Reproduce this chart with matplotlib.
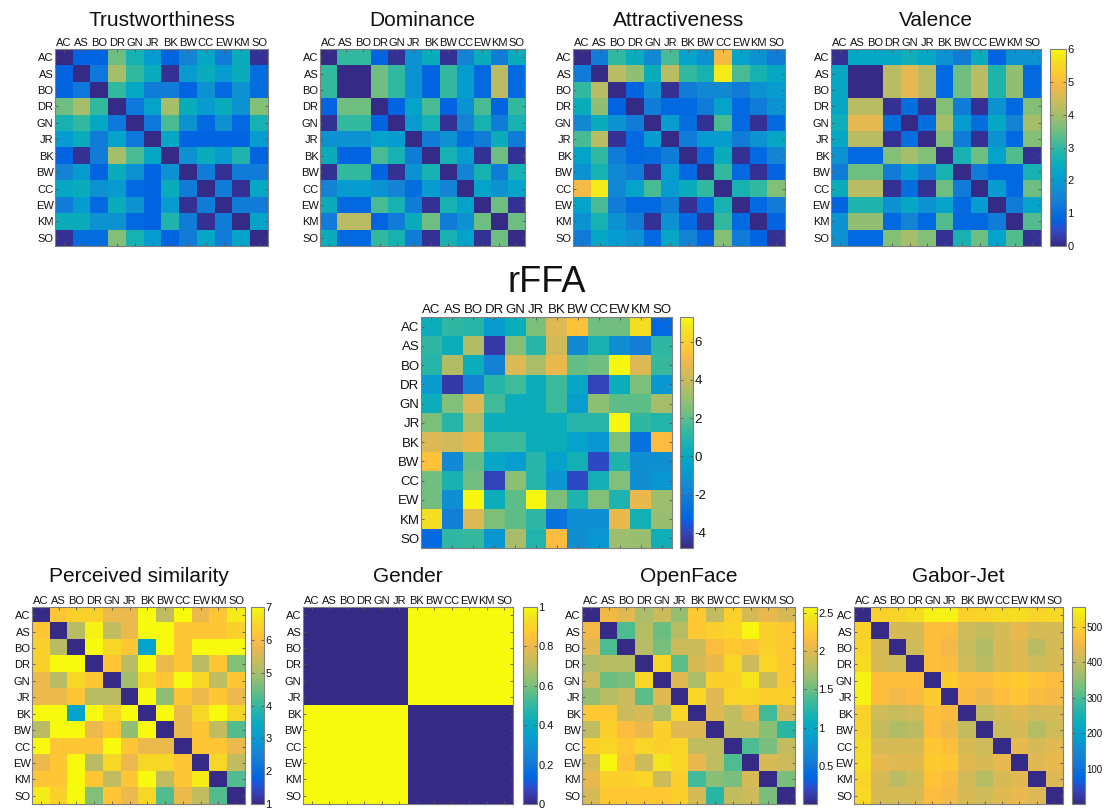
import numpy as np
import matplotlib
matplotlib.use("Agg")
import matplotlib.pyplot as plt
from matplotlib.colors import LinearSegmentedColormap

plt.rcParams['font.family'] = ['Liberation Sans', 'DejaVu Sans']
plt.rcParams['axes.unicode_minus'] = False

faces = ['AC', 'AS', 'BO', 'DR', 'GN', 'JR', 'BK', 'BW', 'CC', 'EW', 'KM', 'SO']

trustworthiness = [
    [0.0, 0.8, 0.8, 3.5, 2.7, 2.0, 0.8, 1.5, 2.3, 1.3, 2.5, 0.1],
    [0.8, 0.0, 1.2, 4.0, 3.0, 2.5, 0.1, 2.0, 2.5, 2.0, 2.5, 1.0],
    [0.8, 1.2, 0.0, 3.0, 2.3, 1.3, 1.3, 0.8, 1.8, 0.9, 1.8, 1.0],
    [3.5, 4.0, 3.0, 0.0, 1.2, 2.2, 4.0, 2.5, 2.0, 2.5, 1.8, 3.7],
    [2.7, 3.0, 2.3, 1.2, 0.0, 1.2, 3.2, 1.8, 0.9, 1.8, 0.9, 2.7],
    [2.0, 2.5, 1.3, 2.2, 1.2, 0.0, 2.3, 0.8, 0.8, 0.8, 0.8, 2.0],
    [0.8, 0.1, 1.3, 4.0, 3.2, 2.3, 0.0, 1.8, 2.5, 2.0, 2.8, 0.8],
    [1.5, 2.0, 0.8, 2.5, 1.8, 0.8, 1.8, 0.0, 1.3, 0.1, 1.3, 1.3],
    [2.3, 2.5, 1.8, 2.0, 0.9, 0.8, 2.5, 1.3, 0.0, 1.3, 0.1, 2.3],
    [1.3, 2.0, 0.9, 2.5, 1.8, 0.8, 2.0, 0.1, 1.3, 0.0, 1.3, 1.3],
    [2.5, 2.5, 1.8, 1.8, 0.9, 0.8, 2.8, 1.3, 0.1, 1.3, 0.0, 2.2],
    [0.1, 1.0, 1.0, 3.7, 2.7, 2.0, 0.8, 1.3, 2.3, 1.3, 2.2, 0.0],
]

dominance = [
    [0.0, 3.0, 3.0, 0.8, 0.1, 1.8, 2.5, 0.1, 1.5, 2.5, 1.3, 2.5],
    [3.0, 0.0, 0.0, 3.5, 3.0, 1.8, 0.8, 3.0, 2.0, 0.9, 4.2, 0.9],
    [3.0, 0.0, 0.0, 3.5, 3.0, 1.8, 0.8, 3.0, 2.0, 0.9, 4.2, 0.9],
    [0.8, 3.5, 3.5, 0.0, 0.8, 2.2, 3.2, 0.8, 1.8, 3.2, 0.8, 3.0],
    [0.1, 3.0, 3.0, 0.8, 0.0, 2.0, 2.7, 0.1, 1.5, 2.7, 1.3, 2.7],
    [1.8, 1.8, 1.8, 2.2, 2.0, 0.0, 1.3, 1.8, 1.0, 1.3, 2.5, 1.3],
    [2.5, 0.8, 0.8, 3.2, 2.7, 1.3, 0.0, 2.7, 2.0, 0.1, 3.5, 0.1],
    [0.1, 3.0, 3.0, 0.8, 0.1, 1.8, 2.7, 0.0, 1.5, 2.7, 1.3, 2.7],
    [1.5, 2.0, 2.0, 1.8, 1.5, 1.0, 2.0, 1.5, 0.0, 2.2, 1.8, 2.2],
    [2.5, 0.9, 0.9, 3.2, 2.7, 1.3, 0.1, 2.7, 2.2, 0.0, 3.5, 0.1],
    [1.3, 4.2, 4.2, 0.8, 1.3, 2.5, 3.5, 1.3, 1.8, 3.5, 0.0, 3.5],
    [2.5, 0.9, 0.9, 3.0, 2.7, 1.3, 0.1, 2.7, 2.2, 0.1, 3.5, 0.0],
]

attractiveness = [
    [0.0, 1.3, 3.0, 2.5, 1.6, 3.2, 2.2, 1.8, 4.9, 2.2, 1.8, 1.3],
    [1.3, 0.0, 4.2, 3.8, 2.5, 4.2, 3.0, 2.7, 5.8, 3.2, 2.7, 2.3],
    [3.0, 4.2, 0.0, 0.8, 1.8, 0.1, 1.3, 1.6, 1.6, 1.3, 1.8, 2.0],
    [2.5, 3.8, 0.8, 0.0, 1.3, 0.9, 0.9, 1.3, 2.2, 0.9, 1.3, 1.8],
    [1.6, 2.5, 1.8, 1.3, 0.0, 2.0, 1.0, 0.1, 3.2, 0.9, 0.1, 0.9],
    [3.2, 4.2, 0.1, 0.9, 2.0, 0.0, 1.3, 2.0, 2.0, 1.3, 1.8, 2.3],
    [2.2, 3.0, 1.3, 0.9, 1.0, 1.3, 0.0, 0.9, 2.5, 0.1, 0.9, 1.5],
    [1.8, 2.7, 1.6, 1.3, 0.1, 2.0, 0.9, 0.0, 3.0, 0.9, 0.1, 0.8],
    [4.9, 5.8, 1.6, 2.2, 3.2, 2.0, 2.5, 3.0, 0.0, 2.7, 3.0, 3.7],
    [2.2, 3.2, 1.3, 0.9, 0.9, 1.3, 0.1, 0.9, 2.7, 0.0, 0.9, 1.3],
    [1.8, 2.7, 1.8, 1.3, 0.1, 1.8, 0.9, 0.1, 3.0, 0.9, 0.0, 0.8],
    [1.3, 2.3, 2.0, 1.8, 0.9, 2.3, 1.5, 0.8, 3.7, 1.3, 0.8, 0.1],
]

valence = [
    [0.1, 2.3, 2.3, 2.3, 2.6, 2.3, 1.8, 1.3, 2.5, 0.8, 1.8, 1.8],
    [2.3, 0.0, 0.0, 4.2, 4.7, 4.2, 0.9, 3.5, 4.2, 2.8, 3.8, 0.9],
    [2.3, 0.0, 0.0, 4.2, 4.7, 4.2, 0.9, 3.5, 4.2, 2.8, 3.8, 0.9],
    [2.3, 4.2, 4.2, 0.1, 1.0, 0.1, 3.7, 1.3, 0.1, 1.8, 0.9, 3.7],
    [2.6, 4.7, 4.7, 1.0, 0.0, 1.0, 4.0, 2.0, 1.0, 2.3, 1.5, 4.0],
    [2.3, 4.2, 4.2, 0.1, 1.0, 0.0, 3.7, 1.3, 0.1, 1.8, 0.9, 3.7],
    [1.8, 0.9, 0.9, 3.7, 4.0, 3.7, 0.0, 2.7, 3.5, 2.2, 3.3, 0.1],
    [1.3, 3.5, 3.5, 1.3, 2.0, 1.3, 2.7, 0.0, 1.3, 0.9, 0.9, 2.7],
    [2.5, 4.2, 4.2, 0.1, 1.0, 0.1, 3.5, 1.3, 0.0, 2.0, 0.9, 3.5],
    [0.8, 2.8, 2.8, 1.8, 2.3, 1.8, 2.2, 0.9, 2.0, 0.0, 1.3, 2.2],
    [1.8, 3.8, 3.8, 0.9, 1.5, 0.9, 3.3, 0.9, 0.9, 1.3, 0.0, 3.3],
    [1.8, 0.9, 0.9, 3.7, 4.0, 3.7, 0.1, 2.7, 3.5, 2.2, 3.3, 0.1],
]

rffa = [
    [0.3, 1.2, 1.0, -0.8, 0.3, 2.5, 4.5, 5.5, 2.3, 2.3, 6.5, -3.0],
    [1.2, 0.3, 3.5, -4.3, 2.6, 1.0, 4.2, -1.5, 0.7, -1.3, -2.0, 1.2],
    [1.0, 3.5, 0.3, -1.8, 4.5, 3.4, 4.8, 2.1, 2.3, 7.2, 4.5, 1.3],
    [-0.8, -4.3, -1.8, 1.0, 1.5, 0.3, 1.4, -0.2, -4.0, 0.3, 2.5, -1.0],
    [0.3, 2.6, 4.5, 1.5, 0.3, 0.3, 1.4, -0.6, 2.8, 2.0, 2.0, 3.3],
    [2.5, 1.0, 3.4, 0.3, 0.3, 0.3, 0.3, 1.0, 1.0, 7.2, 1.2, 0.9],
    [4.5, 4.2, 4.8, 1.4, 1.4, 0.3, 0.3, -0.4, -1.0, 2.5, -2.6, 5.3],
    [5.5, -1.5, 2.1, -0.2, -0.6, 1.0, -0.4, 0.5, -3.9, 0.8, -1.3, -1.3],
    [2.3, 0.7, 2.3, -4.0, 2.8, 1.0, -1.0, -3.9, 0.5, 2.6, -1.3, -1.0],
    [2.3, -1.3, 7.2, 0.3, 2.0, 7.2, 2.5, 0.8, 2.6, 0.8, 4.8, 3.1],
    [6.5, -2.0, 4.5, 2.5, 2.0, 1.2, -2.6, -1.3, -1.3, 4.8, 0.5, 3.0],
    [-3.0, 1.2, 1.3, -1.0, 3.3, 0.9, 5.3, -1.3, -1.0, 3.1, 3.0, 0.4],
]

perceived_similarity = [
    [1.0, 6.2, 6.4, 6.4, 5.8, 5.8, 7.0, 5.3, 7.0, 5.8, 6.2, 6.8],
    [6.2, 1.0, 5.2, 6.9, 5.3, 5.8, 7.0, 7.0, 6.2, 6.2, 6.2, 6.4],
    [6.4, 5.2, 1.0, 7.0, 6.5, 6.2, 3.2, 7.0, 6.2, 7.0, 7.0, 7.0],
    [6.4, 7.0, 7.0, 1.0, 6.2, 5.2, 7.0, 5.8, 6.2, 5.2, 6.2, 4.7],
    [5.8, 5.2, 6.5, 6.2, 1.0, 5.0, 6.5, 6.2, 7.0, 6.5, 5.3, 6.2],
    [5.8, 5.8, 6.2, 5.2, 5.2, 1.0, 7.0, 4.8, 6.2, 5.8, 6.2, 5.8],
    [7.0, 7.0, 3.2, 7.0, 6.5, 7.0, 1.0, 7.0, 5.8, 6.5, 7.0, 6.5],
    [5.2, 7.0, 7.0, 5.8, 6.2, 4.8, 7.0, 1.0, 5.8, 6.2, 5.3, 4.3],
    [7.0, 6.2, 6.2, 6.2, 7.0, 6.2, 5.8, 5.8, 1.0, 6.2, 6.2, 5.8],
    [5.8, 6.2, 7.0, 5.2, 6.5, 5.8, 6.5, 6.5, 6.2, 1.0, 6.5, 5.3],
    [6.2, 6.2, 7.0, 6.2, 5.3, 6.2, 7.0, 5.3, 6.2, 6.8, 1.0, 4.3],
    [6.8, 6.4, 7.0, 4.7, 6.2, 5.8, 6.5, 4.3, 5.8, 5.3, 4.3, 1.0],
]

gender = [
    [0, 0, 0, 0, 0, 0, 1, 1, 1, 1, 1, 1],
    [0, 0, 0, 0, 0, 0, 1, 1, 1, 1, 1, 1],
    [0, 0, 0, 0, 0, 0, 1, 1, 1, 1, 1, 1],
    [0, 0, 0, 0, 0, 0, 1, 1, 1, 1, 1, 1],
    [0, 0, 0, 0, 0, 0, 1, 1, 1, 1, 1, 1],
    [0, 0, 0, 0, 0, 0, 1, 1, 1, 1, 1, 1],
    [1, 1, 1, 1, 1, 1, 0, 0, 0, 0, 0, 0],
    [1, 1, 1, 1, 1, 1, 0, 0, 0, 0, 0, 0],
    [1, 1, 1, 1, 1, 1, 0, 0, 0, 0, 0, 0],
    [1, 1, 1, 1, 1, 1, 0, 0, 0, 0, 0, 0],
    [1, 1, 1, 1, 1, 1, 0, 0, 0, 0, 0, 0],
    [1, 1, 1, 1, 1, 1, 0, 0, 0, 0, 0, 0],
]

openface = [
    [0.00, 2.10, 2.00, 1.75, 1.90, 1.65, 2.25, 1.85, 2.30, 1.95, 2.05, 1.95],
    [2.10, 0.00, 1.40, 1.80, 1.50, 1.80, 2.25, 2.30, 2.35, 2.55, 2.30, 2.25],
    [2.00, 1.40, 0.00, 1.80, 1.55, 1.90, 1.90, 2.15, 2.25, 2.20, 2.30, 2.25],
    [1.75, 1.80, 1.80, 0.00, 2.35, 1.45, 1.95, 2.05, 2.35, 1.90, 2.35, 2.25],
    [1.90, 1.50, 1.55, 2.35, 0.00, 2.00, 1.75, 2.30, 2.30, 2.45, 1.90, 2.25],
    [1.65, 1.80, 1.90, 1.45, 2.00, 0.00, 2.35, 2.00, 2.35, 2.35, 2.30, 2.30],
    [2.25, 2.25, 1.90, 1.95, 1.75, 2.35, 0.00, 2.00, 1.85, 2.05, 1.35, 1.95],
    [1.85, 2.30, 2.15, 2.05, 2.30, 2.00, 2.00, 0.00, 1.85, 1.85, 1.60, 1.25],
    [2.30, 2.35, 2.25, 2.35, 2.30, 2.35, 1.85, 1.85, 0.00, 1.40, 1.55, 1.85],
    [1.95, 2.55, 2.20, 1.90, 2.45, 2.35, 2.05, 1.85, 1.40, 0.00, 1.95, 1.90],
    [2.05, 2.30, 2.30, 2.35, 1.90, 2.30, 1.35, 1.60, 1.55, 1.95, 0.00, 1.55],
    [1.95, 2.25, 2.25, 2.25, 2.25, 2.30, 1.95, 1.25, 1.85, 1.90, 1.55, 0.00],
]

gabor_jet = [
    [0, 500, 505, 515, 545, 545, 500, 505, 515, 520, 505, 510],
    [500, 0, 420, 420, 470, 465, 410, 400, 420, 440, 420, 420],
    [505, 420, 0, 410, 470, 450, 405, 380, 420, 430, 390, 420],
    [515, 420, 410, 0, 470, 460, 410, 390, 420, 430, 410, 420],
    [545, 470, 470, 470, 0, 490, 470, 465, 480, 490, 475, 465],
    [545, 465, 450, 460, 490, 0, 460, 445, 470, 480, 460, 455],
    [500, 410, 405, 410, 470, 460, 0, 400, 420, 430, 415, 420],
    [505, 400, 380, 390, 465, 445, 400, 0, 410, 420, 385, 410],
    [515, 420, 420, 420, 480, 470, 420, 410, 0, 440, 420, 430],
    [520, 440, 430, 430, 490, 480, 430, 420, 440, 0, 430, 440],
    [505, 420, 390, 410, 475, 460, 415, 385, 420, 430, 0, 425],
    [510, 420, 420, 420, 465, 455, 420, 410, 430, 440, 425, 0],
]

# MATLAB "parula" colour map (64 entries)
_parula = [
    [0.2081, 0.1663, 0.5292], [0.2116, 0.1898, 0.5777], [0.2123, 0.2138, 0.6270],
    [0.2081, 0.2386, 0.6771], [0.1959, 0.2645, 0.7279], [0.1707, 0.2919, 0.7792],
    [0.1253, 0.3242, 0.8303], [0.0591, 0.3598, 0.8683], [0.0117, 0.3875, 0.8820],
    [0.0060, 0.4086, 0.8828], [0.0165, 0.4266, 0.8786], [0.0329, 0.4430, 0.8720],
    [0.0498, 0.4586, 0.8641], [0.0629, 0.4737, 0.8554], [0.0723, 0.4887, 0.8467],
    [0.0779, 0.5040, 0.8384], [0.0793, 0.5200, 0.8312], [0.0749, 0.5375, 0.8263],
    [0.0641, 0.5570, 0.8240], [0.0488, 0.5772, 0.8228], [0.0343, 0.5966, 0.8199],
    [0.0265, 0.6137, 0.8135], [0.0239, 0.6287, 0.8038], [0.0231, 0.6418, 0.7913],
    [0.0228, 0.6535, 0.7768], [0.0267, 0.6642, 0.7607], [0.0384, 0.6743, 0.7436],
    [0.0590, 0.6838, 0.7254], [0.0843, 0.6928, 0.7062], [0.1133, 0.7015, 0.6859],
    [0.1453, 0.7098, 0.6646], [0.1801, 0.7177, 0.6424], [0.2178, 0.7250, 0.6193],
    [0.2586, 0.7317, 0.5954], [0.3022, 0.7376, 0.5712], [0.3482, 0.7424, 0.5473],
    [0.3953, 0.7459, 0.5244], [0.4420, 0.7481, 0.5033], [0.4871, 0.7491, 0.4840],
    [0.5300, 0.7491, 0.4661], [0.5709, 0.7485, 0.4494], [0.6099, 0.7473, 0.4337],
    [0.6473, 0.7456, 0.4188], [0.6834, 0.7435, 0.4044], [0.7184, 0.7411, 0.3905],
    [0.7525, 0.7384, 0.3768], [0.7858, 0.7356, 0.3633], [0.8185, 0.7327, 0.3498],
    [0.8507, 0.7299, 0.3360], [0.8824, 0.7274, 0.3217], [0.9139, 0.7258, 0.3063],
    [0.9450, 0.7261, 0.2886], [0.9739, 0.7314, 0.2666], [0.9938, 0.7455, 0.2403],
    [0.9990, 0.7653, 0.2164], [0.9955, 0.7861, 0.1967], [0.9880, 0.8066, 0.1794],
    [0.9789, 0.8271, 0.1633], [0.9697, 0.8481, 0.1475], [0.9626, 0.8705, 0.1309],
    [0.9589, 0.8949, 0.1132], [0.9598, 0.9218, 0.0948], [0.9661, 0.9514, 0.0755],
    [0.9763, 0.9831, 0.0538],
]
parula = LinearSegmentedColormap.from_list('parula', _parula, N=256)

W, H = 1106, 810
fig = plt.figure(figsize=(W / 100, H / 100), dpi=100)


def rect(x0, y0, x1, y1):
    return [x0 / W, 1 - y1 / H, (x1 - x0) / W, (y1 - y0) / H]


EDGE = '#7f7f7f'


def panel(title, data, vmin, vmax, box, title_y, title_size=15,
          label_size=8, cbox=None, cticks=None, cticklabels=None,
          cbar_label_size=None):
    ax = fig.add_axes(rect(*box))
    im = ax.imshow(np.array(data, dtype=float), cmap=parula, vmin=vmin,
                   vmax=vmax, aspect='auto', interpolation='nearest')
    n = len(faces)
    ax.set_xticks(range(n))
    ax.set_yticks(range(n))
    ax.set_xticklabels(faces, fontsize=label_size)
    ax.set_yticklabels(faces, fontsize=label_size)
    ax.xaxis.tick_top()
    ax.tick_params(axis='both', which='both', direction='in', length=2,
                   width=0.6, color='#555555', pad=1.0, labelcolor='#111111',
                   top=True, bottom=True, left=True, right=True,
                   labeltop=True, labelbottom=False,
                   labelleft=True, labelright=False)
    for s in ax.spines.values():
        s.set_color(EDGE)
        s.set_linewidth(0.8)
    cx = (box[0] + box[2]) / 2
    fig.text(cx / W, 1 - title_y / H, title, ha='center', va='center',
             fontsize=title_size, color='#111111')
    if cbox is not None:
        cax = fig.add_axes(rect(*cbox))
        cb = fig.colorbar(im, cax=cax)
        cb.set_ticks(cticks)
        if cticklabels is not None:
            cb.set_ticklabels(cticklabels)
        cax.tick_params(direction='in', length=2.5, width=0.6,
                        labelsize=cbar_label_size or label_size, pad=1.0,
                        color='#555555', labelcolor='#111111',
                        left=True, right=True)
        cb.outline.set_edgecolor(EDGE)
        cb.outline.set_linewidth(0.8)
    return ax


panel('Trustworthiness', trustworthiness, 0, 6, (55, 49, 268, 246), 20)
panel('Dominance', dominance, 0, 6, (320, 49, 525, 246), 20)
panel('Attractiveness', attractiveness, 0, 6, (573, 49, 785, 246), 20)
panel('Valence', valence, 0, 6, (831, 49, 1041, 246), 20,
      cbox=(1050, 49, 1066, 246), cticks=[0, 1, 2, 3, 4, 5, 6])

panel('rFFA', rffa, -4.8, 7.3, (421, 317, 672, 548), 282, title_size=26,
      label_size=9.5, cbox=(680, 317, 693, 548), cticks=[-4, -2, 0, 2, 4, 6])

panel('Perceived similarity', perceived_similarity, 1, 7,
      (32, 607, 245, 804), 577,
      cbox=(251, 607, 264, 804), cticks=[1, 2, 3, 4, 5, 6, 7])
panel('Gender', gender, 0, 1, (303, 607, 513, 804), 577,
      cbox=(523, 607, 537, 804), cticks=[0, 0.2, 0.4, 0.6, 0.8, 1],
      cticklabels=['0', '0.2', '0.4', '0.6', '0.8', '1'])
panel('OpenFace', openface, 0, 2.58, (582, 607, 795, 804), 577,
      cbox=(803, 607, 817, 804), cticks=[0.5, 1, 1.5, 2, 2.5],
      cticklabels=['0.5', '1', '1.5', '2', '2.5'])
panel('Gabor-Jet', gabor_jet, 0, 555, (854, 607, 1063, 804), 577,
      cbox=(1072, 607, 1085, 804), cticks=[100, 200, 300, 400, 500],
      cbar_label_size=7)

fig.savefig('out.png', dpi=100)
